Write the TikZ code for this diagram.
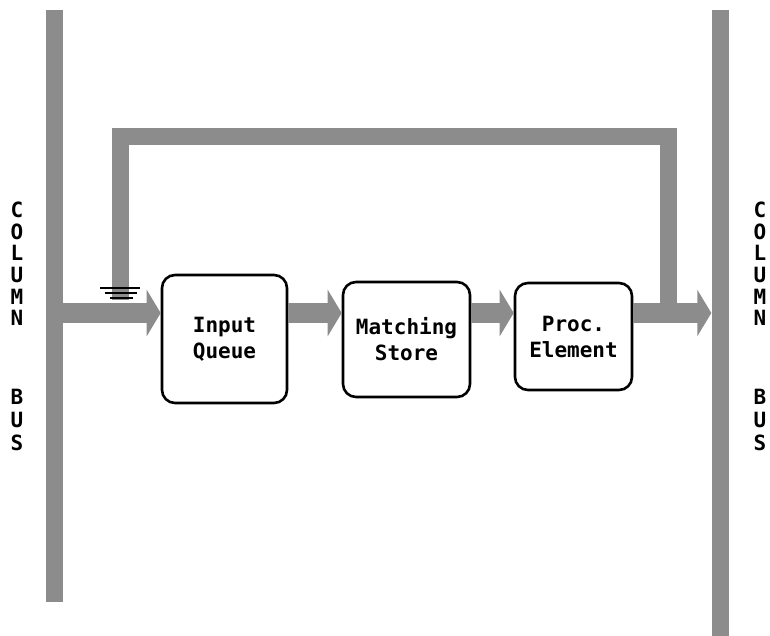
\documentclass[tikz,border=0pt]{standalone}
\usepackage{fontspec}
\setmonofont{DejaVu Sans Mono}
\usetikzlibrary{arrows.meta}
\definecolor{busgray}{gray}{0.55}

\begin{document}
\begin{tikzpicture}[x=1pt,y=-1pt,
  unit/.style={draw, line width=2.6pt, rounded corners=13pt, align=center, inner sep=0pt,
    font=\ttfamily\bfseries\fontsize{21}{26}\selectfont},
  bus/.style={fill=busgray, inner sep=0pt, minimum width=17pt},
  flow/.style={busgray, line width=20pt, -{Triangle[length=14pt,width=46pt]}},
  feed/.style={busgray, line width=17pt},
  letter/.style={font=\ttfamily\bfseries\fontsize{21}{21}\selectfont, inner sep=0pt}]
  \useasboundingbox (0,0) rectangle (770,636);

  % Draw the two column buses
  \node[bus, minimum height=592pt] (lbus) at (54.5,306) {};
  \node[bus, minimum height=626pt] (rbus) at (720,323) {};

  % Bus labels, one letter per line
  \foreach \ch/\yy [count=\i] in {C/210,O/231.6,L/253.2,U/274.8,M/296.4,N/318,B/397,U/420,S/443} {
    \node[letter] (ll\i) at (17,\yy) {\ch};
    \node[letter] (rl\i) at (760,\yy) {\ch};
  }

  % The three units of the pipeline
  \node[unit, minimum width=125pt, minimum height=128pt] (iq) at (224.5,339) {Input\\Queue};
  \node[unit, minimum width=127pt, minimum height=115pt] (ms) at (406.5,339.5) {Matching\\Store};
  \node[unit, minimum width=117pt, minimum height=107pt] (pe) at (573.5,336.5) {Proc.\\Element};

  % Level of the data path
  \coordinate (lane) at (0,313);
  \coordinate (tap) at (668,313);
  \coordinate (looptop) at (0,137);
  \coordinate (merge) at (120,300);

  % Feedback path from the output back to the input
  \draw[feed] (tap) |- (looptop -| merge) -- (merge);
  \draw[line width=1.4pt, shift={(merge)}]
    (-20,-12) -- (20,-12) (-15,-7) -- (17,-7) (-10,-2) -- (13,-2);

  % Data path through the units
  \draw[flow] (lane -| lbus.east) -- (lane -| iq.west);
  \draw[flow] (lane -| iq.east) -- (lane -| ms.west);
  \draw[flow] (lane -| ms.east) -- (lane -| pe.west);
  \draw[flow] (lane -| pe.east) -- (lane -| rbus.west);

\end{tikzpicture}
\end{document}
